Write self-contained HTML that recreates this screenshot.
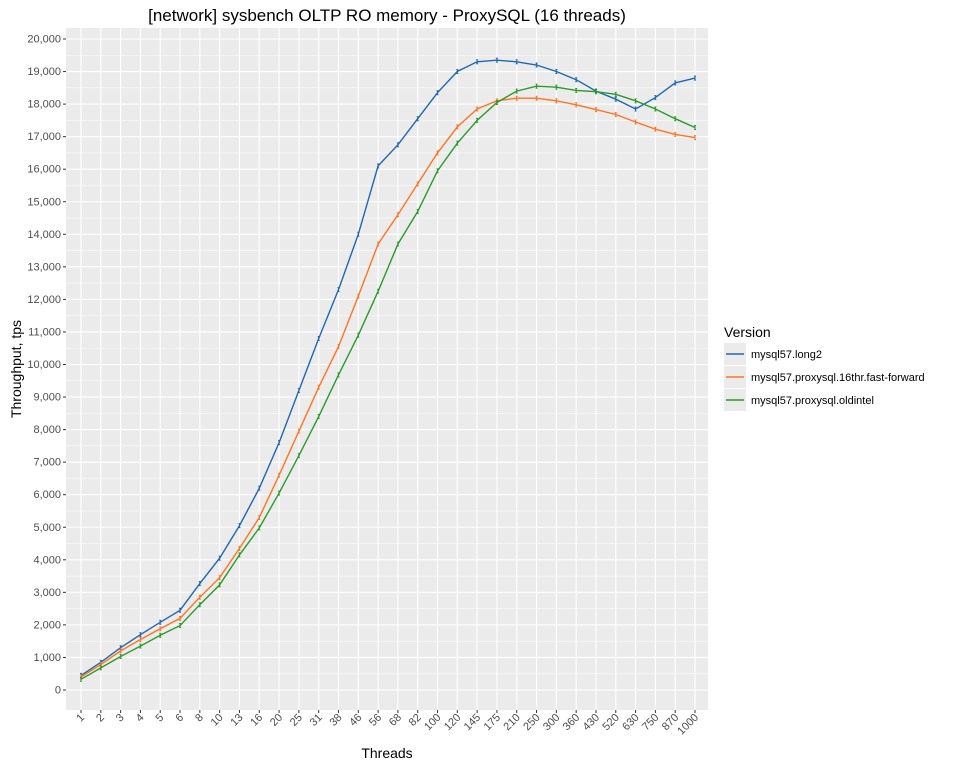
<!DOCTYPE html>
<html><head><meta charset="utf-8"><style>
body{margin:0;background:#fff;font-family:"Liberation Sans",Arial,sans-serif}
</style></head><body>
<svg id="s" width="960" height="768" xmlns="http://www.w3.org/2000/svg" font-family="Liberation Sans, Arial, sans-serif"></svg>
<script>
const s=document.getElementById('s');let h='';
const L=66,R=708,T=28,B=710;
const Y=v=>690-v*(651/20000);
const cats=[1,2,3,4,5,6,8,10,13,16,20,25,31,38,46,56,68,82,100,120,145,175,210,250,300,360,430,520,630,750,870,1000];
const X=i=>81+i*(614/31);
h+=`<text x="387" y="21" font-size="17" text-anchor="middle" fill="#000">[network] sysbench OLTP RO memory - ProxySQL (16 threads)</text>`;
h+=`<rect x="${L}" y="${T}" width="${R-L}" height="${B-T}" fill="#ebebeb"/>`;
for(let v=500;v<20500;v+=1000)h+=`<line x1="${L}" x2="${R}" y1="${Y(v)}" y2="${Y(v)}" stroke="#fff" stroke-width="0.5"/>`;
for(let v=0;v<=20000;v+=1000){const y=Y(v);h+=`<line x1="${L}" x2="${R}" y1="${y}" y2="${y}" stroke="#fff" stroke-width="1.1"/><line x1="${L-3}" x2="${L}" y1="${y}" y2="${y}" stroke="#333"/><text x="${L-5}" y="${y+3.5}" font-size="11" text-anchor="end" fill="#4d4d4d">${v.toLocaleString('en-US')}</text>`;}
cats.forEach((c,i)=>{const x=X(i);h+=`<line x1="${x}" x2="${x}" y1="${T}" y2="${B}" stroke="#fff" stroke-width="1.1"/><line x1="${x}" x2="${x}" y1="${B}" y2="${B+3}" stroke="#333"/><text transform="translate(${x+4},${B+8}) rotate(-45)" font-size="11" text-anchor="end" fill="#4d4d4d">${c}</text>`;});
const d={
'#1f68b0':[450,850,1300,1700,2080,2450,3270,4050,5050,6200,7600,9200,10800,12300,14000,16100,16750,17550,18350,19000,19300,19350,19300,19200,19000,18750,18400,18150,17850,18200,18650,18800],
'#ff7420':[400,780,1200,1550,1880,2200,2850,3450,4350,5300,6600,7950,9300,10550,12100,13700,14600,15550,16500,17300,17850,18100,18180,18180,18100,17980,17830,17680,17450,17230,17070,16970],
'#2a9a2a':[330,680,1030,1350,1680,1980,2620,3230,4150,4980,6050,7200,8400,9680,10900,12250,13700,14700,15950,16800,17500,18050,18400,18550,18520,18420,18380,18300,18100,17850,17550,17280]};
for(const c in d){const p=d[c].map((v,i)=>X(i).toFixed(1)+','+Y(v).toFixed(1)).join(' ');h+=`<polyline points="${p}" fill="none" stroke="${c}" stroke-width="1.4"/>`;d[c].forEach((v,i)=>{h+=`<line x1="${X(i)-1}" x2="${X(i)+1}" y1="${Y(v)-2}" y2="${Y(v)-2}" stroke="${c}"/><line x1="${X(i)}" x2="${X(i)}" y1="${Y(v)-2}" y2="${Y(v)+2}" stroke="${c}"/><line x1="${X(i)-1}" x2="${X(i)+1}" y1="${Y(v)+2}" y2="${Y(v)+2}" stroke="${c}"/>`;});}
h+=`<text x="387" y="758" font-size="14" text-anchor="middle">Threads</text>`;
h+=`<text transform="translate(21,369) rotate(-90)" font-size="14" text-anchor="middle">Throughput, tps</text>`;
h+=`<text x="724" y="337" font-size="14">Version</text>`;
const names=['mysql57.long2','mysql57.proxysql.16thr.fast-forward','mysql57.proxysql.oldintel'];
Object.keys(d).forEach((c,i)=>{const y=343+i*23;h+=`<rect x="724" y="${y}" width="22" height="22" fill="#ebebeb"/><line x1="726" x2="744" y1="${y+11}" y2="${y+11}" stroke="${c}" stroke-width="1.4"/><text x="751" y="${y+15}" font-size="11">${names[i]}</text>`;});
s.innerHTML=h;
</script></body></html>
